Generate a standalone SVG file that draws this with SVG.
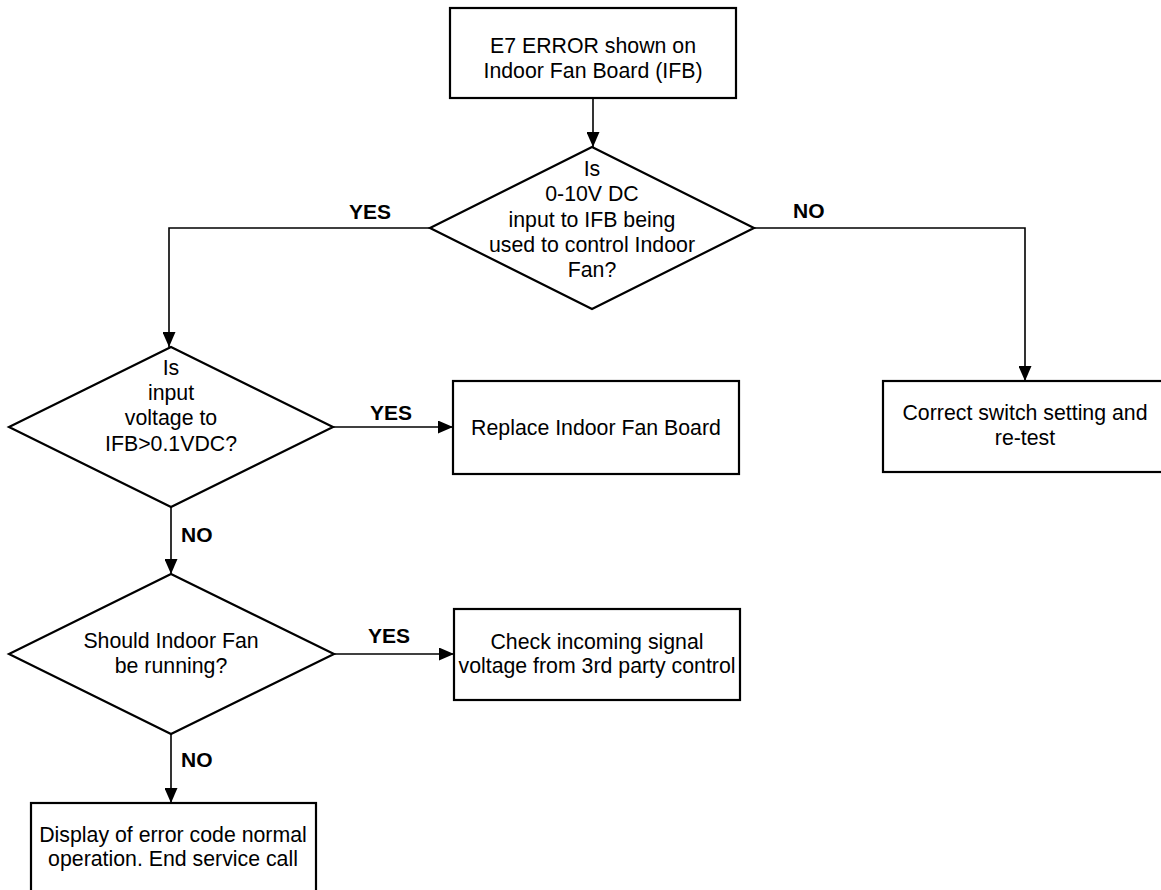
<svg xmlns="http://www.w3.org/2000/svg" width="1161" height="890" viewBox="0 0 1161 890">
  <style>
    .shape { fill: #ffffff; stroke: #000000; stroke-width: 2.2; }
    .wire { fill: none; stroke: #000000; stroke-width: 1.6; }
    .txt { font-family: "Liberation Sans", Arial, sans-serif; font-size: 21.3px; fill: #000000; text-anchor: middle; }
    .lbl { font-family: "Liberation Sans", Arial, sans-serif; font-size: 21px; font-weight: bold; fill: #000000; }
  </style>
  <defs>
    <marker id="arrow" markerUnits="userSpaceOnUse" markerWidth="15" markerHeight="13" refX="15" refY="6.5" orient="auto">
      <path d="M0,0 L15,6.5 L0,13 z" fill="#000000"/>
    </marker>
  </defs>
  <rect width="1161" height="890" fill="#ffffff"/>

  <!-- connectors -->
  <g id="connectors">
    <path class="wire" d="M593,98 L593,147" marker-end="url(#arrow)"/>
    <path class="wire" d="M430,228 L169,228 L169,347" marker-end="url(#arrow)"/>
    <path class="wire" d="M754,228 L1025,228 L1025,381" marker-end="url(#arrow)"/>
    <path class="wire" d="M333,427 L453,427" marker-end="url(#arrow)"/>
    <path class="wire" d="M171,507 L171,574" marker-end="url(#arrow)"/>
    <path class="wire" d="M334,654 L454,654" marker-end="url(#arrow)"/>
    <path class="wire" d="M171,734 L171,803" marker-end="url(#arrow)"/>
    <text class="lbl" x="349" y="219">YES</text>
    <text class="lbl" x="793" y="218">NO</text>
    <text class="lbl" x="370" y="420">YES</text>
    <text class="lbl" x="181" y="542">NO</text>
    <text class="lbl" x="368" y="643">YES</text>
    <text class="lbl" x="181" y="767">NO</text>
  </g>

  <!-- start -->
  <g id="start">
    <rect class="shape" x="450" y="8" width="286" height="90"/>
    <text class="txt" x="593" y="53">E7 ERROR shown on</text>
    <text class="txt" x="593" y="77.5">Indoor Fan Board (IFB)</text>
  </g>

  <!-- decision: 0-10V input in use -->
  <g id="q-input-used">
    <polygon class="shape" points="592,147 754,228 592,309 430,228"/>
    <text class="txt" x="592" y="175.5">Is</text>
    <text class="txt" x="592" y="201">0-10V DC</text>
    <text class="txt" x="592" y="226.5">input to IFB being</text>
    <text class="txt" x="592" y="252">used to control Indoor</text>
    <text class="txt" x="592" y="277">Fan?</text>
  </g>

  <!-- action: switch setting -->
  <g id="correct-switch">
    <rect class="shape" x="883" y="381" width="286" height="91"/>
    <text class="txt" x="1025" y="420">Correct switch setting and</text>
    <text class="txt" x="1025" y="445">re-test</text>
  </g>

  <!-- decision: input voltage -->
  <g id="q-voltage">
    <polygon class="shape" points="171,347 333,427 171,507 9,427"/>
    <text class="txt" x="171" y="375">Is</text>
    <text class="txt" x="171" y="400">input</text>
    <text class="txt" x="171" y="425">voltage to</text>
    <text class="txt" x="171" y="451">IFB&gt;0.1VDC?</text>
  </g>

  <!-- action: replace board -->
  <g id="replace-board">
    <rect class="shape" x="453" y="381" width="286" height="93"/>
    <text class="txt" x="596" y="435">Replace Indoor Fan Board</text>
  </g>

  <!-- decision: fan running -->
  <g id="q-fan-running">
    <polygon class="shape" points="171,574 334,654 171,734 9,654"/>
    <text class="txt" x="171" y="648">Should Indoor Fan</text>
    <text class="txt" x="171" y="673">be running?</text>
  </g>

  <!-- action: check signal -->
  <g id="check-signal">
    <rect class="shape" x="454" y="609" width="286" height="91"/>
    <text class="txt" x="597" y="649">Check incoming signal</text>
    <text class="txt" x="597" y="673">voltage from 3rd party control</text>
  </g>

  <!-- end -->
  <g id="end-call">
    <rect class="shape" x="31" y="803" width="285" height="100"/>
    <text class="txt" x="173" y="842">Display of error code normal</text>
    <text class="txt" x="173" y="866">operation. End service call</text>
  </g>
</svg>
